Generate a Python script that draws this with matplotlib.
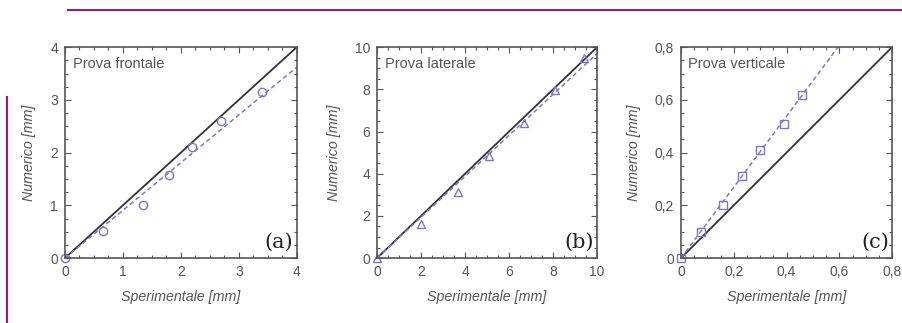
# Confronto numerico-sperimentale: prove frontale, laterale, verticale

import numpy as np
import matplotlib.pyplot as plt
from matplotlib.ticker import AutoMinorLocator, FuncFormatter

# prova frontale
xa = [0, 0.65, 1.35, 1.8, 2.2, 2.7, 3.4]
ya = [0, 0.52, 1.0, 1.57, 2.1, 2.6, 3.15]
fit_a = 0.905

# prova laterale
xb = [0, 2.0, 3.7, 5.1, 6.7, 8.1, 9.4]
yb = [0, 1.6, 3.15, 4.85, 6.4, 7.95, 9.5]
fit_b = 0.97

# prova verticale
xc = [0, 0.075, 0.16, 0.23, 0.30, 0.39, 0.46]
yc = [0, 0.10, 0.20, 0.31, 0.41, 0.51, 0.62]
fit_c = 1.345

titoli = ['Prova frontale', 'Prova laterale', 'Prova verticale']
lettere = ['(a)', '(b)', '(c)']
limiti = [4, 10, 0.8]
ticks = [[0, 1, 2, 3, 4], [0, 2, 4, 6, 8, 10], [0, 0.2, 0.4, 0.6, 0.8]]
markers = ['o', '^', 's']

grigio = '#555555'
blu = '#7a78c8'
magenta = '#9b1f5e'

plt.rcParams['font.family'] = ['Liberation Sans', 'DejaVu Sans']

fig = plt.figure(figsize=(9.02, 3.23), dpi=100)

# linee decorative della pagina
fig.add_artist(plt.Line2D([68/902, 1], [1-9.5/323, 1-9.5/323], color=magenta, lw=1.5))
fig.add_artist(plt.Line2D([7.5/902, 7.5/902], [0, 1-97/323], color=magenta, lw=1.5))

posizioni = [[0.072, 0.201, 0.257, 0.653],
             [0.418, 0.201, 0.244, 0.653],
             [0.755, 0.201, 0.234, 0.653]]

dati = [(xa, ya, fit_a), (xb, yb, fit_b), (xc, yc, fit_c)]


def virgola(v, pos):
    if v == 0:
        return '0'
    return ('%g' % v).replace('.', ',')


for i in range(3):
    ax = fig.add_axes(posizioni[i])
    x, y, m = dati[i]
    L = limiti[i]
    ax.plot([0, L], [0, L], color='#333333', lw=1.3)
    xf = np.array([0, L])
    ax.plot(xf, m*xf, color=blu, lw=1.1, ls=(0, (3, 2)))
    ax.plot(x, y, ls='none', marker=markers[i], ms=6, mfc='none', mec=blu, mew=1.0,
            clip_on=False)
    ax.set_xlim(0, L)
    ax.set_ylim(0, L)
    ax.set_xticks(ticks[i])
    ax.set_yticks(ticks[i])
    if i == 2:
        ax.xaxis.set_major_formatter(FuncFormatter(virgola))
        ax.yaxis.set_major_formatter(FuncFormatter(virgola))
    ax.xaxis.set_minor_locator(AutoMinorLocator(4))
    ax.yaxis.set_minor_locator(AutoMinorLocator(4))
    ax.tick_params(which='both', direction='in', top=True, right=True,
                   colors=grigio, labelsize=10, width=0.8)
    ax.tick_params(which='major', length=4, pad=5)
    ax.tick_params(which='minor', length=2)
    for s in ax.spines.values():
        s.set_color(grigio)
        s.set_linewidth(1.2)
    ax.set_xlabel('Sperimentale [mm]', style='italic', color=grigio, fontsize=10.3,
                  labelpad=8)
    ax.set_ylabel('Numerico [mm]', style='italic', color=grigio, fontsize=10.3,
                  labelpad=10)
    ax.text(0.035, 0.955, titoli[i], transform=ax.transAxes, fontsize=10.5, color=grigio,
            va='top')
    ax.text(0.985, 0.03, lettere[i], transform=ax.transAxes, fontsize=15, color='#222222',
            family='DejaVu Serif', ha='right', va='bottom')

plt.savefig('out.png', dpi=100)
